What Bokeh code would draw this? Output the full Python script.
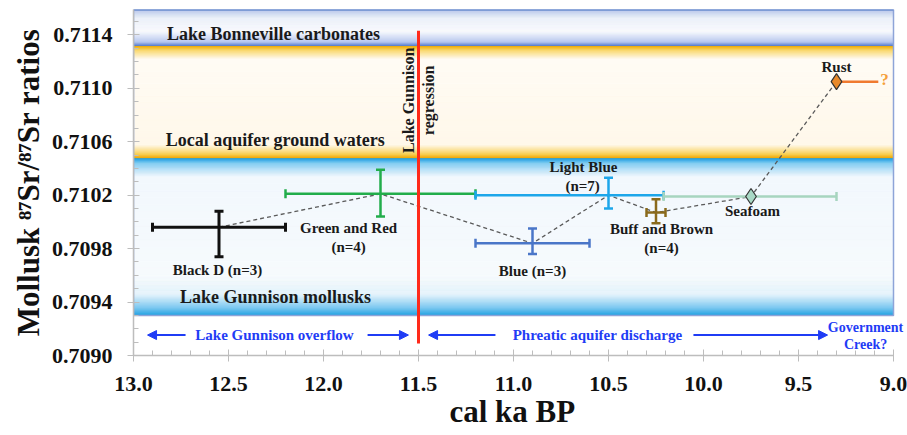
import numpy as np
from bokeh.plotting import figure
from bokeh.models import (Range1d, FixedTicker, NumeralTickFormatter, Arrow, NormalHead, Title)
from bokeh.core.properties import value
from bokeh.embed import file_html
from bokeh.resources import INLINE

# ---------------- data ----------------
names = ["Black D", "Green and Red", "Blue", "Light Blue", "Buff and Brown", "Seafoam", "Rust"]
age = [12.55, 11.70, 10.90, 10.50, 10.25, 9.75, 9.30]            # cal ka BP
sr = [0.70996, 0.71021, 0.70984, 0.71020, 0.71007, 0.71019, 0.71105]
age_old = [12.90, 12.20, 11.20, 11.20, 10.30, 10.21, 9.30]
age_young = [12.20, 11.20, 10.60, 10.21, 10.20, 9.30, 9.08]
sr_low = [0.70974, 0.71004, 0.70976, 0.71010, 0.70999, None, None]
sr_high = [0.71008, 0.71039, 0.70995, 0.71033, 0.71017, None, None]
colors = ["#111111", "#22ad4b", "#4a76c8", "#1da6ea", "#8a6a1c", "#a7d5bf", "#f07a30"]
caps = [True, True, True, True, True, True, False]

# sample labels
label_text = ["Black D (n=3)", "Green and Red", "(n=4)", "Blue (n=3)", "Light Blue", "(n=7)",
              "Buff and Brown", "(n=4)", "Seafoam", "Rust"]
label_x = [12.558, 11.868, 11.868, 10.90, 10.632, 10.636, 10.221, 10.221, 9.742, 9.30]
label_y = [0.709639, 0.709953, 0.709811, 0.709632, 0.710409, 0.710266, 0.709946, 0.709804,
           0.710080, 0.711157]

# reference bands (Sr ratio ranges)
band_names = ["Lake Gunnison mollusks", "Local aquifer ground waters", "Lake Bonneville carbonates"]
band_low = [0.70930, 0.71048, 0.71132]
band_high = [0.71048, 0.71132, 0.71159]
band_label_x = [12.253, 12.253, 12.263]
band_label_y = [0.709437, 0.710611, 0.711404]

# regression line
regression_age = 11.5
regression_sr = [0.70909, 0.71143]
regression_text = ["Lake Gunnison", "regression"]
regression_text_x = [11.553, 11.447]
regression_text_y = [0.71091, 0.71091]

# bottom annotations
phase_names = ["Lake Gunnison overflow", "Phreatic aquifer discharge"]
phase_x = [12.258, 10.558]
phase_y = 0.709153
phase_arrows = [(12.726, 12.926), (11.768, 11.553), (11.095, 11.447), (10.053, 9.347)]
creek_text = ["Government", "Creek?"]
creek_x = [9.147, 9.147]
creek_y = [0.709213, 0.709086]

y_ticks = [0.7090, 0.7094, 0.7098, 0.7102, 0.7106, 0.7110, 0.7114]
y_minor = [round(0.7090 + 0.0001 * i, 4) for i in range(26)]
x_ticks = [13.0, 12.5, 12.0, 11.5, 11.0, 10.5, 10.0, 9.5, 9.0]
x_minor = [round(9.0 + 0.1 * i, 1) for i in range(41)]

SERIF = "Liberation Serif"
ANN_BLUE = "#1f3cf5"
X0, X1 = 13.0, 9.0          # axis extent (old -> young)
Y0, Y1 = 0.7090, 0.71159
W, H = 907, 435
BL, BR, BT, BB = 133, 0, 9, 80
AXIS_PX = 760               # pixels spanned by the 13.0 -> 9.0 axis
FW, FH = W - BL - BR, H - BT - BB
X_END = X0 - (X0 - X1) * FW / AXIS_PX   # frame reaches a bit past 9.0 for the right-hand note

# ---------------- figure ----------------
p = figure(width=W, height=H, output_backend="svg", toolbar_location=None,
           x_range=Range1d(X0, X_END), y_range=Range1d(Y0, Y1),
           min_border_left=BL, min_border_right=BR, min_border_top=BT, min_border_bottom=BB,
           background_fill_color="white", border_fill_color="white")
p.outline_line_color = None
p.xgrid.visible = False
p.ygrid.visible = False


def hex2rgb(h):
    return np.array([int(h[i:i + 2], 16) for i in (1, 3, 5)], dtype=float)


def gradient(y0, y1, c0, c1, n=14):
    a, b = hex2rgb(c0), hex2rgb(c1)
    edges = np.linspace(y0, y1, n + 1)
    bots, tops, cols = [], [], []
    for i in range(n):
        t = (i + 0.5) / n
        c = a + (b - a) * t
        bots.append(min(edges[i], edges[i + 1]))
        tops.append(max(edges[i], edges[i + 1]))
        cols.append("#%02x%02x%02x" % tuple(int(round(v)) for v in c))
    return bots, tops, cols


g_lo, a_lo, b_lo = band_low
g_hi, a_hi, b_hi = band_high
segments = [
    # Lake Gunnison mollusks band (blue)
    (g_lo, g_lo + 0.00005, "#1b9de0", "#6cc2ef"),
    (g_lo + 0.00005, g_lo + 0.00016, "#6cc2ef", "#e4f3fb"),
    (g_lo + 0.00016, g_lo + 0.00030, "#e4f3fb", "#f6fafd"),
    (g_lo + 0.00030, g_hi - 0.00014, "#f6fafd", "#f2f8fd"),
    (g_hi - 0.00014, g_hi - 0.00004, "#f2f8fd", "#86cef3"),
    (g_hi - 0.00004, g_hi, "#86cef3", "#1a9de2"),
    # Local aquifer ground waters band (orange/cream)
    (a_lo, a_lo + 0.00003, "#f1a500", "#f8cf55"),
    (a_lo + 0.00003, a_lo + 0.00010, "#f8cf55", "#fff8ea"),
    (a_lo + 0.00010, a_hi - 0.00010, "#fff8ea", "#fffbf4"),
    (a_hi - 0.00010, a_hi - 0.00003, "#fffbf4", "#fad767"),
    (a_hi - 0.00003, a_hi, "#fad767", "#f2ac00"),
    # Lake Bonneville carbonates band (blue tube)
    (b_lo, b_lo + 0.00003, "#4f78cf", "#b7c8ee"),
    (b_lo + 0.00003, b_lo + 0.00011, "#b7c8ee", "#f9fafd"),
    (b_lo + 0.00011, b_hi - 0.00006, "#f9fafd", "#eaeff9"),
    (b_hi - 0.00006, b_hi, "#eaeff9", "#b9c8ea"),
]
bots, tops, cols = [], [], []
for s in segments:
    b_, t_, c_ = gradient(*s)
    bots += b_
    tops += t_
    cols += c_
p.quad(left=X0, right=X1, bottom=bots, top=tops, fill_color=cols, line_color=cols,
       line_width=0.6)
# outline of the band block
p.quad(left=X0, right=X1, bottom=g_lo, top=b_hi, fill_color=None,
       line_color="#8ea4d8", line_width=1.5)
p.segment(x0=X0, x1=X1, y0=b_hi, y1=b_hi, line_color="#6f8fd0", line_width=2.5)

# band labels
p.text(x=band_label_x, y=band_label_y, text=band_names, text_font=value(SERIF),
       text_font_style="bold", text_font_size="18px", text_align="center",
       text_baseline="middle", text_color="#1a1a1a")

# dashed connector
p.line(x=age, y=sr, line_dash="4 3", line_color="#5a5a5a", line_width=1.3)

# error bars (caps sized in pixels, converted to data units)
cap_px = 4.5
cx = cap_px * (X0 - X1) / AXIS_PX
cy = cap_px * (Y1 - Y0) / FH
for i in range(len(names)):
    col = colors[i]
    lw = 3 if i == 0 else 2.5
    xs0, xs1, ys0, ys1 = [age_old[i]], [age_young[i]], [sr[i]], [sr[i]]
    if caps[i]:
        xs0 += [age_old[i], age_young[i]]
        xs1 += [age_old[i], age_young[i]]
        ys0 += [sr[i] - cy, sr[i] - cy]
        ys1 += [sr[i] + cy, sr[i] + cy]
    if sr_low[i] is not None:
        xs0 += [age[i], age[i] - cx, age[i] - cx]
        xs1 += [age[i], age[i] + cx, age[i] + cx]
        ys0 += [sr_low[i], sr_low[i], sr_high[i]]
        ys1 += [sr_high[i], sr_low[i], sr_high[i]]
    p.segment(x0=xs0, x1=xs1, y0=ys0, y1=ys1, line_color=col, line_width=lw)

# diamonds for single samples
p.scatter(x=[age[5], age[6]], y=[sr[5], sr[6]], marker="diamond", size=16,
          fill_color=["#a9d9c6", "#e8892b"], line_color="#333333", line_width=1.2)

# regression line
p.segment(x0=regression_age, x1=regression_age, y0=regression_sr[0], y1=regression_sr[1],
          line_color="#ff2a1a", line_width=3)
p.text(x=regression_text_x, y=regression_text_y, text=regression_text, angle=np.pi / 2,
       text_font=value(SERIF), text_font_style="bold", text_font_size="16px",
       text_align="center", text_baseline="middle", text_color="#1a1a1a")

# sample labels
p.text(x=label_x, y=label_y, text=label_text, text_font=value(SERIF), text_font_style="bold",
       text_font_size="15px", text_align="center", text_baseline="middle",
       text_color="#1a1a1a")
p.text(x=[9.047], y=[0.711067], text=["?"], text_font=value(SERIF), text_font_style="bold",
       text_font_size="17px", text_align="center", text_baseline="middle",
       text_color="#f5a03c")

# bottom phase annotations
p.text(x=phase_x, y=[phase_y] * 2, text=phase_names, text_font=value(SERIF),
       text_font_style="bold", text_font_size="15px", text_align="center",
       text_baseline="middle", text_color=ANN_BLUE)
for xs, xe in phase_arrows:
    p.add_layout(Arrow(end=NormalHead(size=9, fill_color=ANN_BLUE, line_color=ANN_BLUE),
                       x_start=xs, y_start=phase_y, x_end=xe, y_end=phase_y,
                       line_color=ANN_BLUE, line_width=2))
p.text(x=creek_x, y=creek_y, text=creek_text, text_font=value(SERIF), text_font_style="bold",
       text_font_size="14px", text_align="center", text_baseline="middle",
       text_color=ANN_BLUE)

# axes
p.xaxis.ticker = FixedTicker(ticks=x_ticks, minor_ticks=x_minor)
p.yaxis.ticker = FixedTicker(ticks=y_ticks, minor_ticks=y_minor)
p.xaxis.bounds = (X1, X0)
p.xaxis.formatter = NumeralTickFormatter(format="0.0")
p.yaxis.formatter = NumeralTickFormatter(format="0.0000")
p.yaxis.axis_label = "Mollusk \u2078\u2077Sr/\u2078\u2077Sr ratios"
for ax in (p.xaxis[0], p.yaxis[0]):
    ax.axis_line_color = "#bdbdbd"
    ax.axis_line_width = 1.5
    ax.major_tick_line_color = "#bdbdbd"
    ax.minor_tick_line_color = "#bdbdbd"
    ax.major_tick_in = 6
    ax.major_tick_out = 6
    ax.minor_tick_in = 5
    ax.minor_tick_out = 0
    ax.major_label_text_font = SERIF
    ax.major_label_text_font_style = "bold"
    ax.major_label_text_font_size = "22px"
    ax.major_label_text_color = "#111111"
    ax.axis_label_text_font = SERIF
    ax.axis_label_text_font_style = "bold"
    ax.axis_label_text_color = "#111111"
p.xaxis.major_label_standoff = 15
p.yaxis.major_label_standoff = 15
p.yaxis.axis_label_text_font_size = "31px"
p.yaxis.axis_label_standoff = 3

# x-axis title, centred under the 13.0 -> 9.0 span
X_TITLE_W = 128   # approximate rendered width of the title text (px)
x_title = Title(text="cal ka BP", align="left", vertical_align="top", text_font=SERIF,
                text_font_style="bold", text_font_size="31px", text_color="#111111",
                standoff=0, offset=(AXIS_PX - X_TITLE_W) / 2)
p.add_layout(x_title, "below")

open("out.html", "w").write(file_html(p, INLINE))
